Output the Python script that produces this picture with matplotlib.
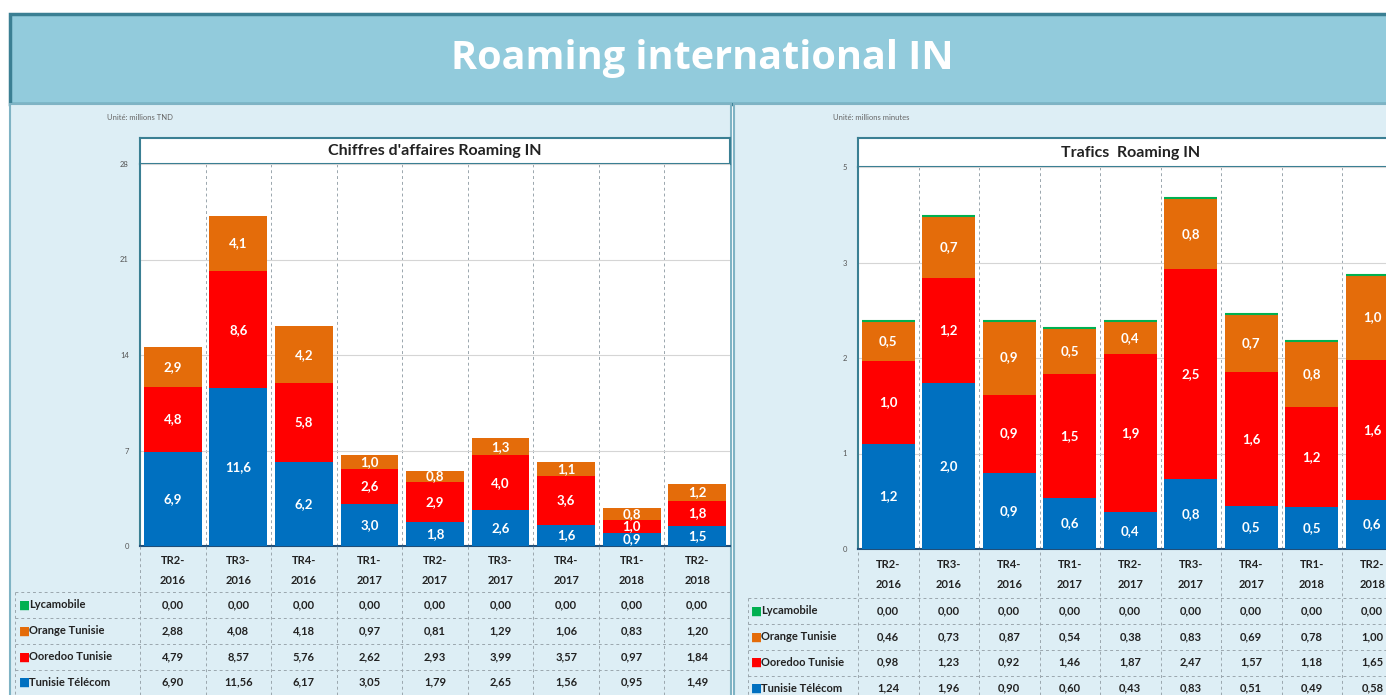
import numpy as np
import matplotlib
matplotlib.use("Agg")
import matplotlib.pyplot as plt
from matplotlib.patches import Rectangle

# ---- data ----
quarters = ["TR2-\n2016", "TR3-\n2016", "TR4-\n2016", "TR1-\n2017", "TR2-\n2017",
            "TR3-\n2017", "TR4-\n2017", "TR1-\n2018", "TR2-\n2018"]
operators = ["Lycamobile", "Orange Tunisie", "Ooredoo Tunisie", "Tunisie Télécom"]

ca_tt = [6.90, 11.56, 6.17, 3.05, 1.79, 2.65, 1.56, 0.95, 1.49]
ca_ooredoo = [4.79, 8.57, 5.76, 2.62, 2.93, 3.99, 3.57, 0.97, 1.84]
ca_orange = [2.88, 4.08, 4.18, 0.97, 0.81, 1.29, 1.06, 0.83, 1.20]
ca_lyca = [0.00, 0.00, 0.00, 0.00, 0.00, 0.00, 0.00, 0.00, 0.00]

tr_tt = [1.24, 1.96, 0.90, 0.60, 0.43, 0.83, 0.51, 0.49, 0.58]
tr_ooredoo = [0.98, 1.23, 0.92, 1.46, 1.87, 2.47, 1.57, 1.18, 1.65]
tr_orange = [0.46, 0.73, 0.87, 0.54, 0.38, 0.83, 0.69, 0.78, 1.00]
tr_lyca = [0.00, 0.00, 0.00, 0.00, 0.00, 0.00, 0.00, 0.00, 0.00]

ca_ticks = [0, 7, 14, 21, 28]
tr_ticks = list(np.linspace(0, 4.5, 5))

# ---- style ----
BLUE = "#0070C0"
RED = "#FF0000"
ORANGE = "#E46C0A"
GREEN = "#00B050"
BANNER = "#92CBDC"
BORDER = "#3A7F93"
PANEL = "#DDEEF5"
GRID = "#9AA6AD"
FONT = ["Lato", "DejaVu Sans"]

plt.rcParams["font.family"] = FONT

W, H = 1386, 695
fig = plt.figure(figsize=(W / 100, H / 100), dpi=100)
fig.patch.set_facecolor("white")


def px_axes(x0, y0, x1, y1, **kw):
    return fig.add_axes([x0 / W, 1 - y1 / H, (x1 - x0) / W, (y1 - y0) / H], **kw)


# background layer in pixel coordinates
bg = px_axes(0, 0, W, H)
bg.set_xlim(0, W)
bg.set_ylim(H, 0)
bg.axis("off")
bg.add_patch(Rectangle((10, 14), W, 90, facecolor=BANNER, edgecolor=BORDER, lw=2.5))
bg.text(702, 58, "Roaming international IN", ha="center", va="center", color="white",
        fontsize=28.5, fontweight="bold", family=["Open Sans", "DejaVu Sans"])
bg.add_patch(Rectangle((10, 104), 721, 600, facecolor=PANEL, edgecolor="#7FB3C4", lw=1.5))
bg.add_patch(Rectangle((734, 104), 700, 600, facecolor=PANEL, edgecolor="#7FB3C4", lw=1.5))
bg.text(107, 118, "Unité: millions TND", fontsize=5.5, color="#666666", va="center")
bg.text(833, 117, "Unité: millions minutes", fontsize=5.5, color="#666666", va="center")


def fmt1(v):
    return f"{v:.1f}".replace(".", ",")


def fmt2(v):
    return f"{v:.2f}".replace(".", ",")


def panel(px0, px1, top, plot_top, y0, ymax, ticks, ticklabels, title,
          tt, ooredoo, orange, lyca, green_top, rows_y, head_y, legend_x, tab_left):
    # title box
    tax = px_axes(px0, top, px1, plot_top)
    tax.set_facecolor("white")
    tax.set_xticks([])
    tax.set_yticks([])
    for s in tax.spines.values():
        s.set_color(BORDER)
        s.set_linewidth(1.5)
    tax.text(0.5, 0.5, title, ha="center", va="center", fontsize=11.5, fontweight="bold",
             color="#222222", transform=tax.transAxes)

    ax = px_axes(px0, plot_top, px1, y0)
    x = np.arange(len(quarters))
    ax.set_facecolor("white")
    b1 = ax.bar(x, tt, 0.88, color=BLUE, zorder=3)
    b2 = ax.bar(x, ooredoo, 0.88, bottom=tt, color=RED, zorder=3)
    bot3 = np.array(tt) + np.array(ooredoo)
    b3 = ax.bar(x, orange, 0.88, bottom=bot3, color=ORANGE, zorder=3)
    if green_top:
        ax.bar(x, lyca, 0.88, bottom=bot3 + np.array(orange), color=GREEN,
               edgecolor=GREEN, lw=1.5, zorder=4)
    for bars, vals in ((b1, tt), (b2, ooredoo), (b3, orange)):
        ax.bar_label(bars, labels=[fmt1(v) for v in vals], label_type="center",
                     color="white", fontsize=9.5, fontweight="bold", zorder=5)
    ax.set_xlim(-0.5, len(quarters) - 0.5)
    ax.set_ylim(0, ymax)
    ax.set_yticks(ticks)
    ax.set_yticklabels(ticklabels, fontsize=5.5, color="#555555")
    ax.tick_params(axis="y", length=0, pad=8)
    ax.set_xticks([])
    ax.yaxis.grid(True, color="#D5D5D5", lw=0.8, zorder=0)
    for xv in x[:-1] + 0.5:
        ax.axvline(xv, color=GRID, lw=0.7, ls=(0, (3, 3)), zorder=1)
    for k, s in ax.spines.items():
        s.set_visible(k in ("left", "bottom"))
    ax.spines["left"].set_color(BORDER)
    ax.spines["left"].set_linewidth(1.5)
    ax.spines["bottom"].set_color("#1F4E79")
    ax.spines["bottom"].set_linewidth(1.5)

    # data table under the chart
    tb = px_axes(px0, y0, px1, H)
    tb.set_xlim(-0.5, len(quarters) - 0.5)
    tb.set_ylim(H, y0)
    tb.axis("off")
    for i, q in enumerate(quarters):
        a, b = q.split("\n")
        tb.text(i, head_y[0], a, ha="center", va="center", fontsize=8, fontweight="bold", color="#222222")
        tb.text(i, head_y[1], b, ha="center", va="center", fontsize=8, fontweight="bold", color="#222222")
    series = [lyca, orange, ooredoo, tt]
    colors = [GREEN, ORANGE, RED, BLUE]
    for r, (name, vals, c) in enumerate(zip(operators, series, colors)):
        yy = rows_y[r]
        for i, v in enumerate(vals):
            tb.text(i, yy, fmt2(v), ha="center", va="center", fontsize=8,
                    fontweight="bold", color="#222222")
        bg.text(legend_x, yy, "■", color=c, fontsize=8.5, va="center", ha="left",
                family=["DejaVu Sans"])
        bg.text(legend_x + 10, yy, name, color="#222222", fontsize=8, fontweight="bold",
                va="center", ha="left")
    # dashed table rules
    step = (rows_y[1] - rows_y[0])
    for r in range(len(rows_y) + 1):
        yy = rows_y[0] - step / 2 + r * step
        bg.plot([tab_left, px1], [yy, yy], color=GRID, lw=0.7, ls=(0, (3, 3)))
    for xv in np.arange(-0.5, len(quarters) - 0.5, 1.0):
        tb.axvline(xv, color=GRID, lw=0.7, ls=(0, (3, 3)))
    bg.plot([tab_left, tab_left], [rows_y[0] - step / 2, H], color=GRID, lw=0.7, ls=(0, (3, 3)))


panel(140, 730, 138, 164, 546, 28, ca_ticks, [str(t) for t in ca_ticks],
      "Chiffres d'affaires Roaming IN", ca_tt, ca_ooredoo, ca_orange, ca_lyca, False,
      [605, 631, 657, 682], (560, 580), 19, 15)

tr_labels = [str(int(t + 0.5)) for t in tr_ticks]
panel(858, 858 + 9 * 60.5, 138, 167, 549, 4.5, tr_ticks, tr_labels,
      "Trafics  Roaming IN", tr_tt, tr_ooredoo, tr_orange, tr_lyca, True,
      [611, 637, 662, 688], (565, 585), 751, 748)

fig.savefig("out.png", dpi=100)
